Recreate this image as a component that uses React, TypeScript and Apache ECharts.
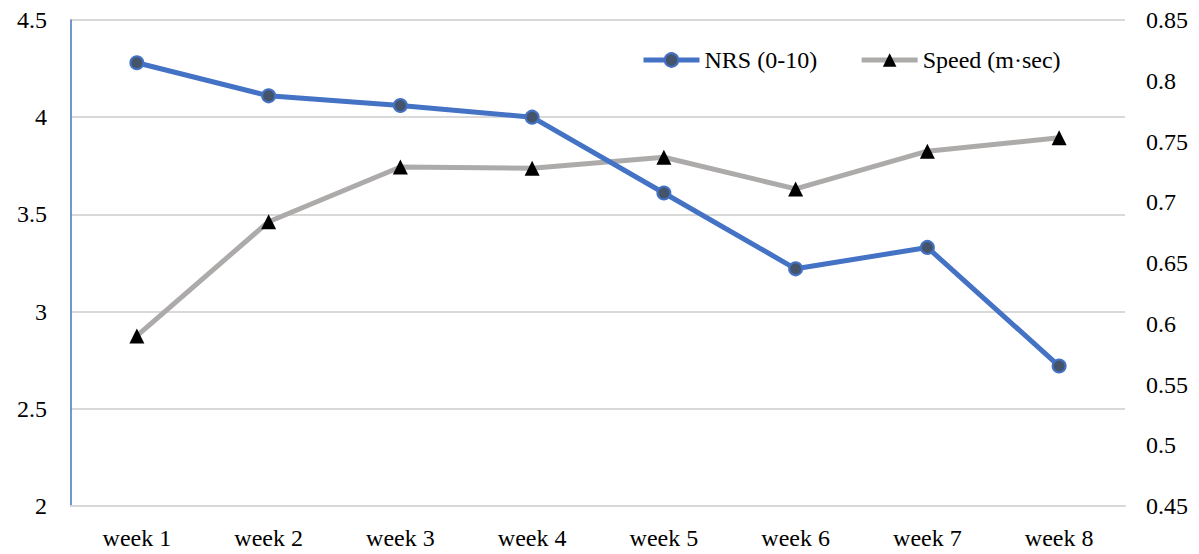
import React, { useEffect, useRef } from "react";
import * as echarts from "echarts";

const categories = ["week 1", "week 2", "week 3", "week 4", "week 5", "week 6", "week 7", "week 8"];
const nrsValues = [4.28, 4.11, 4.06, 4.0, 3.61, 3.22, 3.33, 2.72];
const speedValues = [0.59, 0.684, 0.729, 0.728, 0.737, 0.711, 0.742, 0.753];
const nrsName = "NRS (0-10)";
const speedName = "Speed (m·sec)";

const FONT = "Liberation Serif, Times New Roman, serif";
const FS = 24;

export default function App() {
  const ref = useRef<HTMLDivElement>(null);
  useEffect(() => {
    if (!ref.current) return;
    const chart = echarts.init(ref.current, undefined, { renderer: "svg" });
    chart.setOption({
      animation: false,
      backgroundColor: "#ffffff",
      textStyle: { fontFamily: FONT, fontSize: FS },
      grid: { left: 71, right: 74, top: 20, bottom: 48, containLabel: false },
      legend: {
        data: [nrsName, speedName],
        left: 641,
        top: 48,
        padding: 0,
        itemWidth: 56,
        itemHeight: 17,
        itemGap: 42,
        lineStyle: { width: 5 },
        textStyle: { fontFamily: FONT, fontSize: FS, color: "#000" },
      },
      xAxis: {
        type: "category",
        data: categories,
        boundaryGap: true,
        axisLine: { show: true, lineStyle: { color: "#d9d9d9", width: 2 } },
        axisTick: { show: false },
        axisLabel: { fontFamily: FONT, fontSize: FS, color: "#000", margin: 20 },
      },
      yAxis: [
        {
          type: "value",
          min: 2,
          max: 4.5,
          interval: 0.5,
          axisLine: { show: true, lineStyle: { color: "#4472C4", width: 1.5 } },
          axisTick: { show: false },
          splitLine: { show: true, lineStyle: { color: "#d9d9d9", width: 2 } },
          axisLabel: { fontFamily: FONT, fontSize: FS, color: "#000", margin: 24 },
        },
        {
          type: "value",
          min: 0.45,
          max: 0.85,
          interval: 0.05,
          position: "right",
          axisLine: { show: false },
          axisTick: { show: false },
          splitLine: { show: false },
          axisLabel: { fontFamily: FONT, fontSize: FS, color: "#000", margin: 21 },
        },
      ],
      series: [
        {
          name: speedName,
          type: "line",
          yAxisIndex: 1,
          data: speedValues,
          symbol: "triangle",
          symbolSize: 15,
          showAllSymbol: true,
          lineStyle: { color: "#ADAAAA", width: 5 },
          itemStyle: { color: "#000000", borderWidth: 0 },
          z: 2,
        },
        {
          name: nrsName,
          type: "line",
          yAxisIndex: 0,
          data: nrsValues,
          symbol: "circle",
          symbolSize: 13,
          showAllSymbol: true,
          lineStyle: { color: "#4472C4", width: 5 },
          itemStyle: { color: "#44546A", borderColor: "#4472C4", borderWidth: 2 },
          z: 3,
        },
      ],
    });
    return () => chart.dispose();
  }, []);
  return (
    <div
      ref={ref}
      style={{ position: "absolute", left: 0, top: 0, width: 1199, height: 554 }}
    />
  );
}
